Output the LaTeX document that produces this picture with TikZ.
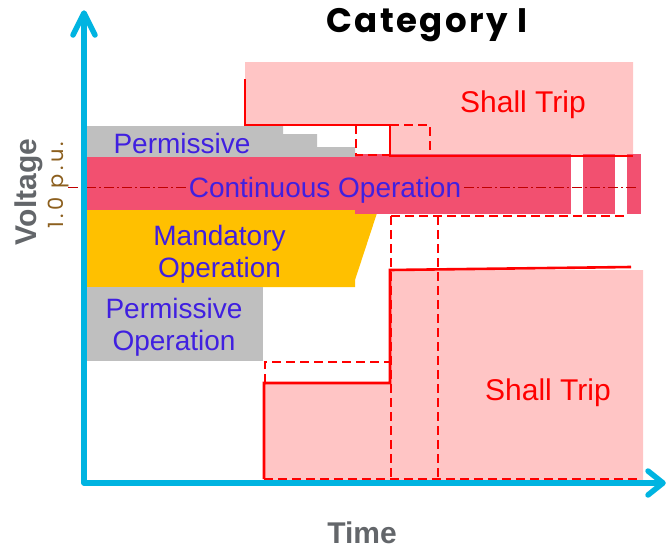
\documentclass[tikz,border=0pt]{standalone}
\usepackage{fontspec}
\setmainfont{Liberation Sans}
\newfontfamily\titlefont{Poppins}[LetterSpace=7]
\newfontfamily\pufont{Poppins}[LetterSpace=16]
\definecolor{axiscyan}{RGB}{0,180,225}
\definecolor{permgray}{RGB}{191,191,191}
\definecolor{contpink}{RGB}{242,80,112}
\definecolor{mandyellow}{RGB}{255,192,0}
\definecolor{tripfill}{RGB}{255,197,197}
\definecolor{tripred}{RGB}{255,0,0}
\definecolor{labelblue}{RGB}{64,32,224}
\definecolor{axisgray}{RGB}{99,102,106}
\definecolor{pubrown}{RGB}{140,95,30}
\definecolor{refred}{RGB}{192,0,0}

\begin{document}
\begin{tikzpicture}[x=1pt,y=-1pt,
  region/.style={text=labelblue,font=\fontsize{28}{32}\selectfont,align=center,inner sep=0pt},
  triptext/.style={text=tripred,font=\fontsize{30}{34}\selectfont,inner sep=0pt},
  axislabel/.style={text=axisgray,font=\fontsize{30}{34}\selectfont\bfseries,inner sep=0pt},
  limit/.style={draw=tripred,line width=2.6pt},
  limitdash/.style={draw=tripred,line width=2.6pt,dash pattern=on 9pt off 5pt},
  axisline/.style={draw=axiscyan,line width=5.5pt,line cap=round,line join=round}]
\useasboundingbox (0,0) rectangle (666,549);

% upper trip zone
\fill[tripfill] (245,62) -- (633,62) -- (633,156) -- (390,156) -- (390,125) -- (245,125) -- cycle;
% permissive band above nominal
\fill[permgray] (84,126) -- (283,126) -- (283,134) -- (317,134) -- (317,147) -- (355,147)
  -- (355,157) -- (84,157) -- cycle;
% mandatory operation
\fill[mandyellow] (84,210) -- (378,210) -- (355,280) -- (355,287) -- (84,287) -- cycle;
% continuous operation band
\fill[contpink] (84,157) rectangle (355,210);
\fill[contpink] (355,154) rectangle (571,214);
\fill[contpink] (583,154) rectangle (615,214);
\fill[contpink] (627,154) rectangle (641,214);
% permissive operation below
\fill[permgray] (84,287) rectangle (263,361);
% lower trip zone
\fill[tripfill] (264,483) -- (264,383) -- (390,383) -- (390,270) -- (643,270) -- (643,483) -- cycle;

% trip limits
\draw[limitdash] (356,125) -- (356,155) -- (390,155);
\draw[limitdash] (390,125) -- (430,125) -- (430,156);
\draw[limit] (245,79) -- (245,125) -- (390,125) -- (390,156) -- (633,156);
\draw[limitdash] (391,216) -- (625,216);
\draw[limitdash] (391,216) -- (391,479);
\draw[limitdash] (438,216) -- (438,479);
\draw[limitdash] (265,383) -- (265,362) -- (390,362);
\draw[limitdash] (264,479) -- (640,479);
\draw[limit] (264,479) -- (264,383) -- (390,383) -- (390,270) -- (631,267);

% nominal voltage reference
\draw[refred,line width=1pt,dash pattern=on 10pt off 3pt on 2pt off 3pt] (68,187) -- (637,187);

% region labels (base anchor sits on the last line)
\node[region,anchor=base] (permtop) at (182,153) {Permissive};
\node[region,anchor=base,fill=contpink] (cont) at (325,197) {Continuous Operation};
\node[region,anchor=base] (mand) at (219.5,277) {Mandatory\\Operation};
\node[region,anchor=base] (permlow) at (174,350) {Permissive\\Operation};
\node[triptext,anchor=base] (tripup) at (523,112) {Shall Trip};
\node[triptext,anchor=base] (triplow) at (548,400) {Shall Trip};

% axes
\draw[axisline] (84,14) -- (84,483) -- (662,483);
\draw[axisline] (73,35) -- (84,13) -- (95,35);
\draw[axisline] (648,471) -- (663,483) -- (648,495);

% axis labels and title
\node[axislabel,anchor=base] (tlabel) at (362,543) {Time};
\node[axislabel,anchor=base,rotate=90] (vlabel) at (36.5,192) {Voltage};
\node[text=pubrown,font=\pufont\fontsize{21}{24}\selectfont,anchor=base,rotate=90,inner sep=0pt] (pu) at (63,185) {1.0 p.u.};
\node[font=\titlefont\bfseries\fontsize{34}{38}\selectfont,anchor=base,inner sep=0pt] (title) at (427,32) {Category I};
\end{tikzpicture}
\end{document}
